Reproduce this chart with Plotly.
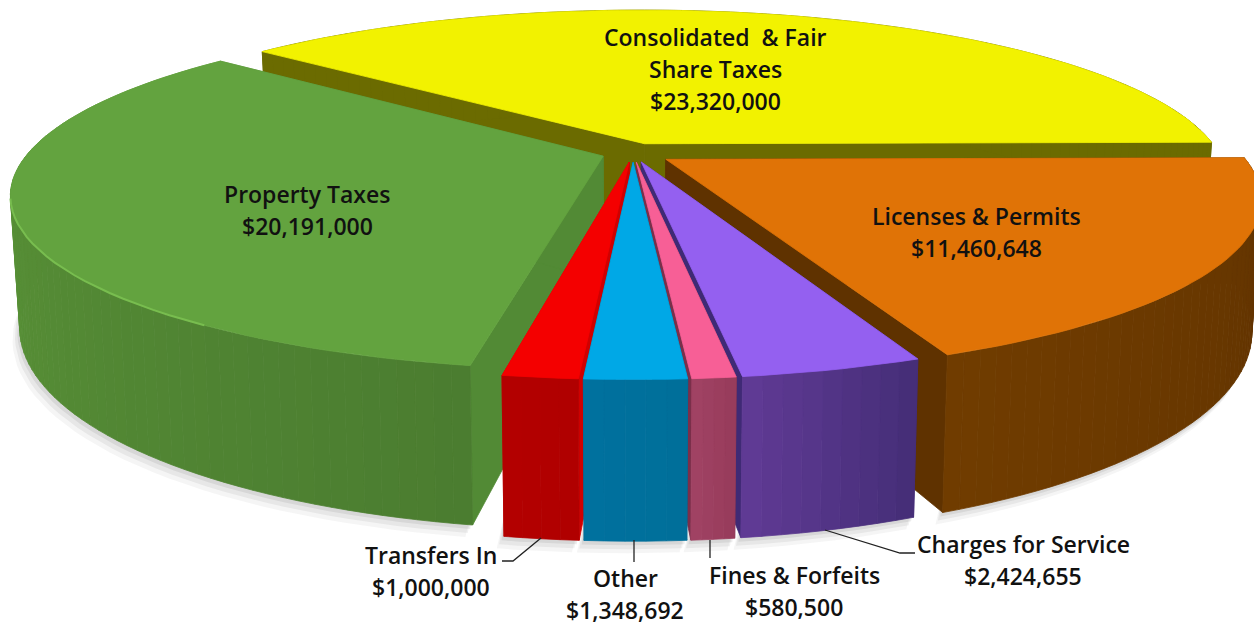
import math
import plotly.graph_objects as go

categories = ["Consolidated & Fair Share Taxes", "Licenses & Permits", "Charges for Service",
              "Fines & Forfeits", "Other", "Transfers In", "Property Taxes"]
values = [23320000, 11460648, 2424655, 580500, 1348692, 1000000, 20191000]
top_colors = ["#f2f200", "#e07306", "#9460f0", "#f75f96", "#00a8e6", "#f40000", "#63a33f"]
face_colors = ["#6b6b00", "#5f3200", "#3f2a75", "#7a2f4a", "#005f85", "#d00000", "#528a35"]
wall_from = ["#6b6b00", "#5f3200", "#462e78", "#983c5c", "#006f9a", "#b00000", "#4b7d30"]
wall_to = ["#6b6b00", "#703c00", "#5f3a94", "#a04263", "#00719e", "#b30000", "#629f3c"]
explode = [0.06, 0.068, 0.055, 0.055, 0.055, 0.055, 0.055]

label_lines = [["Consolidated  & Fair", "Share Taxes", "$23,320,000"],
               ["Licenses & Permits", "$11,460,648"],
               ["Charges for Service", "$2,424,655"],
               ["Fines & Forfeits", "$580,500"],
               ["Other", "$1,348,692"],
               ["Transfers In", "$1,000,000"],
               ["Property Taxes", "$20,191,000"]]
label_pos = [(715, 69), (976, 232), (1023, 560), (794, 591), (625, 594), (431, 571), (307, 210)]

START = -49.7
CX, CY, R, K, H, A, BOTTOM_SHRINK = 633, 153, 575, 166, 125, 0.215, 0.015


def proj(u, v, z=0.0):
    p = 1 / (1 + A * v)
    return (CX + R * u * p * (1 - BOTTOM_SHRINK * z), CY - K * v * p + H * p * z)


def mix(c1, c2, t):
    a = [int(c1[i:i + 2], 16) for i in (1, 3, 5)]
    b = [int(c2[i:i + 2], 16) for i in (1, 3, 5)]
    return "#%02x%02x%02x" % tuple(round(a[i] + (b[i] - a[i]) * t) for i in range(3))


fig = go.Figure()


def poly(points, color):
    xs = [q[0] for q in points] + [points[0][0]]
    ys = [q[1] for q in points] + [points[0][1]]
    fig.add_trace(go.Scatter(x=xs, y=ys, mode="lines", fill="toself", fillcolor=color,
                             line=dict(color=color, width=0.8), hoverinfo="skip", showlegend=False))


total = sum(values)
spans = []
ang = START
for val in values:
    spans.append((ang, ang + val / total * 360))
    ang += val / total * 360

order = [0, 6, 1, 2, 3, 5, 4]  # back to front


def pt(i, deg, r=1.0):
    a0, a1 = spans[i]
    mid = math.radians((a0 + a1) / 2)
    t = math.radians(deg)
    return (explode[i] * math.sin(mid) + r * math.sin(t), explode[i] * math.cos(mid) + r * math.cos(t))


# soft ground shadow
for off, alpha in ((12, 0.05), (8, 0.07), (4, 0.09)):
    for i in (6, 5, 4, 3, 2, 1):
        a0, a1 = spans[i]
        n = max(4, int((a1 - a0) / 2))
        ring = [proj(*pt(i, a0 + (a1 - a0) * j / n), 1.0) for j in range(n + 1)]
        fig.add_trace(go.Scatter(
            x=[q[0] - off * 0.6 for q in ring] + [q[0] for q in ring[::-1]],
            y=[q[1] + off for q in ring] + [q[1] - 20 for q in ring[::-1]],
            mode="lines", fill="toself", fillcolor=f"rgba(60,60,60,{alpha})",
            line=dict(width=0), hoverinfo="skip", showlegend=False))

for i in order:
    a0, a1 = spans[i]
    n = max(4, int((a1 - a0) / 1.5))
    apex = pt(i, a0, 0.0)
    # radial cut faces
    for d in (a0, a1):
        u, v = pt(i, d)
        poly([proj(*apex), proj(u, v), proj(u, v, 1), proj(*apex, 1)], face_colors[i])
    # outer wall strips, painted from the back of the pie to the front
    strips = []
    for j in range(n):
        d0 = a0 + (a1 - a0) * j / n
        d1 = a0 + (a1 - a0) * (j + 1) / n
        strips.append((pt(i, d0), pt(i, d1), mix(wall_from[i], wall_to[i], j / max(1, n - 1))))
    strips.sort(key=lambda s: -(s[0][1] + s[1][1]))
    for (u0, v0), (u1, v1), col in strips:
        poly([proj(u0, v0), proj(u1, v1), proj(u1, v1, 1), proj(u0, v0, 1)], col)
    # top surface
    top = [proj(*apex)] + [proj(*pt(i, a0 + (a1 - a0) * j / n)) for j in range(n + 1)]
    poly(top, top_colors[i])

# light rim along the visible top edge of the property-tax slice
a0, a1 = spans[6]
rim = [proj(*pt(6, a0 + (a1 - a0) * j / 60)) for j in range(12, 34)]
fig.add_trace(go.Scatter(x=[q[0] for q in rim][::-1], y=[q[1] for q in rim][::-1], mode="lines",
                         line=dict(color="#78bd4f", width=2), hoverinfo="skip", showlegend=False))

leaders = [([502, 513, 541], [561, 561, 538]),
           ([634, 634], [540, 562]),
           ([710, 710], [540, 558]),
           ([825, 900, 915], [530, 553, 553])]
for lx, ly in leaders:
    fig.add_trace(go.Scatter(x=lx, y=ly, mode="lines", line=dict(color="#222222", width=1.3),
                             hoverinfo="skip", showlegend=False))

for lines, (lx, ly) in zip(label_lines, label_pos):
    for k, txt in enumerate(lines):
        fig.add_annotation(x=lx, y=ly + (k - (len(lines) - 1) / 2) * 32, text=txt, showarrow=False,
                           xanchor="center", yanchor="middle",
                           font=dict(family="Open Sans", size=23, color="#111111", weight=600))

fig.update_layout(width=1254, height=625, margin=dict(l=0, r=0, t=0, b=0),
                  paper_bgcolor="white", plot_bgcolor="white", showlegend=False,
                  xaxis=dict(range=[0, 1254], visible=False, fixedrange=True),
                  yaxis=dict(range=[625, 0], visible=False, fixedrange=True))
fig.write_html("out.html", config={"displayModeBar": False},
               post_script="document.body.style.margin='0';document.body.style.overflow='hidden';")
